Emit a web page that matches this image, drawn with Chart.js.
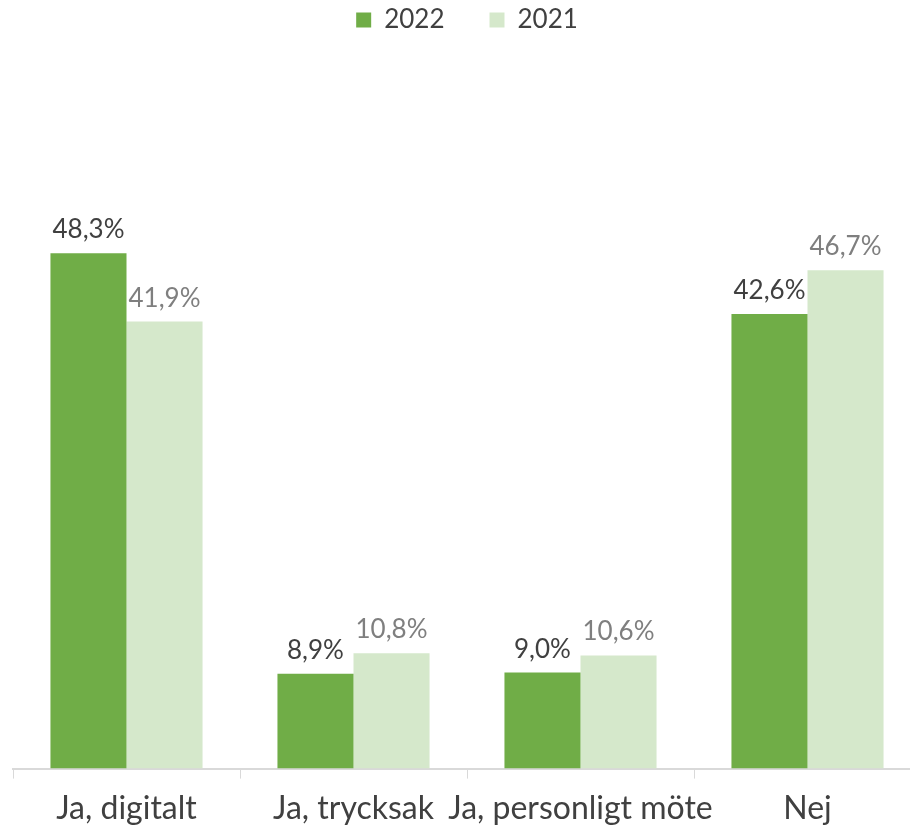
<!DOCTYPE html>
<html>
<head>
<meta charset="utf-8">
<script src="https://cdn.jsdelivr.net/npm/chart.js@4/dist/chart.umd.min.js"></script>
<style>
  html, body { margin: 0; padding: 0; background: #fff; overflow: hidden; }
  #wrap { width: 922px; height: 839px; position: relative; }
</style>
</head>
<body>
<div id="wrap"><canvas id="barChart"></canvas></div>
<script>
const categories = ['Ja, digitalt', 'Ja, trycksak', 'Ja, personligt möte', 'Nej'];
const values2022 = [48.3, 8.9, 9.0, 42.6];
const values2021 = [41.9, 10.8, 10.6, 46.7];

const FONT = 'Lato, "Open Sans", sans-serif';

// draws the value above each bar, like Excel's data labels
const barLabels = {
  id: 'barLabels',
  afterDatasetsDraw(chart) {
    const ctx = chart.ctx;
    ctx.save();
    ctx.font = '26px ' + FONT;
    ctx.textAlign = 'center';
    ctx.textBaseline = 'alphabetic';
    chart.data.datasets.forEach((ds, i) => {
      const meta = chart.getDatasetMeta(i);
      ctx.fillStyle = ds.labelColor;
      meta.data.forEach((bar, j) => {
        const txt = ds.data[j].toFixed(1).replace('.', ',') + '%';
        ctx.fillText(txt, bar.x, bar.y - 15);
      });
    });
    ctx.restore();
  }
};

const ctx = document.getElementById('barChart').getContext('2d');
const myChart = new Chart(ctx, {
  type: 'bar',
  data: {
    labels: categories,
    datasets: [
      {
        label: '2022',
        data: values2022,
        backgroundColor: '#70AD47',
        labelColor: '#404040',
        categoryPercentage: 0.67,
        barPercentage: 1.0
      },
      {
        label: '2021',
        data: values2021,
        backgroundColor: '#D5E8CB',
        labelColor: '#7f7f7f',
        categoryPercentage: 0.67,
        barPercentage: 1.0
      }
    ]
  },
  options: {
    responsive: true,
    maintainAspectRatio: false,
    animation: false,
    layout: { padding: { left: 13, right: 1, top: -38, bottom: 0 } },
    plugins: {
      tooltip: { enabled: false },
      legend: {
        position: 'top',
        labels: {
          font: { family: FONT, size: 26 },
          color: '#404040',
          boxWidth: 15,
          boxHeight: 15,
          padding: 45
        }
      }
    },
    scales: {
      x: {
        grid: {
          display: true,
          offset: true,
          drawOnChartArea: false,
          drawTicks: true,
          tickLength: 10,
          color: '#d9d9d9'
        },
        border: { display: true, color: '#d9d9d9', width: 2 },
        ticks: {
          autoSkip: false,
          maxRotation: 0,
          minRotation: 0,
          padding: 11,
          color: '#404040',
          font: { family: FONT, size: 32 }
        }
      },
      y: {
        display: false,
        min: 0,
        max: 68
      }
    }
  },
  plugins: [barLabels]
});
</script>
</body>
</html>
